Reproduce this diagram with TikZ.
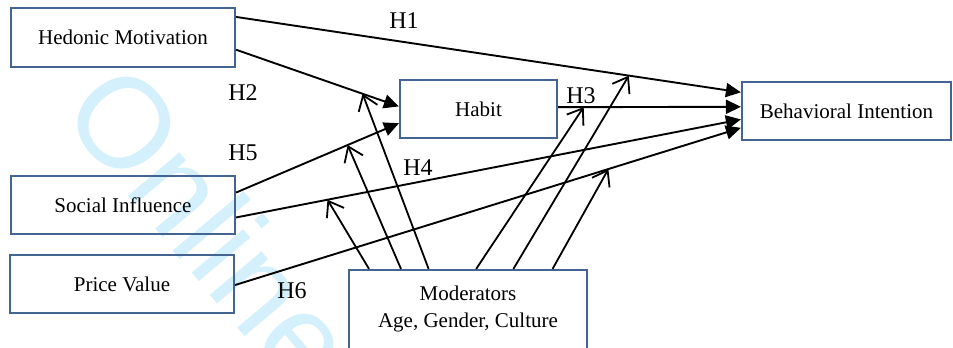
\documentclass[tikz,border=0pt]{standalone}
\usepackage{fontspec}
\setmainfont{Liberation Serif}
\newfontfamily\wmfont{Liberation Sans}
\usetikzlibrary{arrows.meta,calc}
\definecolor{boxblue}{RGB}{68,100,146}
\definecolor{wmcyan}{RGB}{212,240,252}
\tikzset{
  box/.style={draw=boxblue, line width=2.2pt, inner sep=0pt, align=center, font=\rmfamily\fontsize{21}{27}\selectfont},
  hyp/.style={line width=1.9pt, -{Triangle[length=15pt,width=14pt]}},
  moder/.style={line width=1.8pt, -{Straight Barb[length=14pt,width=20pt,line width=1.8pt]}},
  hlab/.style={font=\rmfamily\fontsize{24}{28}\selectfont, inner sep=0pt},
  mtext/.style={align=center, font=\rmfamily\fontsize{21}{27}\selectfont, inner sep=0pt}
}
\begin{document}
\begin{tikzpicture}[x=1pt,y=-1pt]
\useasboundingbox (0,0) rectangle (953,348);
\clip (0,0) rectangle (953,348);
% watermark
\node[text=wmcyan, font=\wmfont\fontsize{128}{128}\selectfont, rotate=-50, inner sep=0pt] (wm) at (212,226) {Online};
% boxes
\node[box, minimum width=224pt, minimum height=59pt] (HM) at (123,37.5) {Hedonic Motivation};
\node[box, minimum width=224pt, minimum height=58pt] (SI) at (123,205) {Social Influence};
\node[box, minimum width=224pt, minimum height=58pt] (PV) at (122,284) {Price Value};
\node[box, minimum width=157pt, minimum height=58pt] (HB) at (478.5,109) {Habit};
\node[box, minimum width=209pt, minimum height=58pt] (BI) at (846.5,111) {Behavioral Intention};
\node[box, minimum width=238pt, minimum height=84pt] (MO) at (468,312) {};
\node[mtext] (MOt) at (468,308.5) {Moderators\\Age, Gender, Culture};
% hypotheses paths
\draw[hyp] ($(HM.north east)!0.164!(HM.south east)$) -- coordinate[pos=0.778] (m1) ($(BI.north west)!0.19!(BI.south west)$);
\draw[hyp] ($(HM.north east)!0.70!(HM.south east)$) -- coordinate[pos=0.777] (m2) ($(HB.north west)!0.457!(HB.south west)$);
\draw[hyp] ($(HB.north east)!0.47!(HB.south east)$) -- coordinate[pos=0.14] (m3) ($(BI.north west)!0.43!(BI.south west)$);
\draw[hyp] ($(SI.north east)!0.293!(SI.south east)$) -- coordinate[pos=0.685] (m5) ($(HB.north west)!0.736!(HB.south west)$);
\draw[hyp] ($(SI.north east)!0.707!(SI.south east)$) -- coordinate[pos=0.181] (m4) ($(BI.north west)!0.64!(BI.south west)$);
\draw[hyp] ($(PV.north east)!0.517!(PV.south east)$) -- coordinate[pos=0.738] (m6) ($(BI.north west)!0.78!(BI.south west)$);
% moderator arrows
\draw[moder] ($(MO.north west)!0.088!(MO.north east)$) -- (m4);
\draw[moder] ($(MO.north west)!0.221!(MO.north east)$) -- (m5);
\draw[moder] ($(MO.north west)!0.336!(MO.north east)$) -- (m2);
\draw[moder] ($(MO.north west)!0.534!(MO.north east)$) -- (m3);
\draw[moder] ($(MO.north west)!0.689!(MO.north east)$) -- (m1);
\draw[moder] ($(MO.north west)!0.852!(MO.north east)$) -- (m6);
% labels
\node[hlab] (H1) at (404,21) {H1};
\node[hlab] (H2) at (243,93) {H2};
\node[hlab] (H3) at (581,96) {H3};
\node[hlab] (H4) at (418,168) {H4};
\node[hlab] (H5) at (243,153) {H5};
\node[hlab] (H6) at (292,291) {H6};
\end{tikzpicture}
\end{document}
